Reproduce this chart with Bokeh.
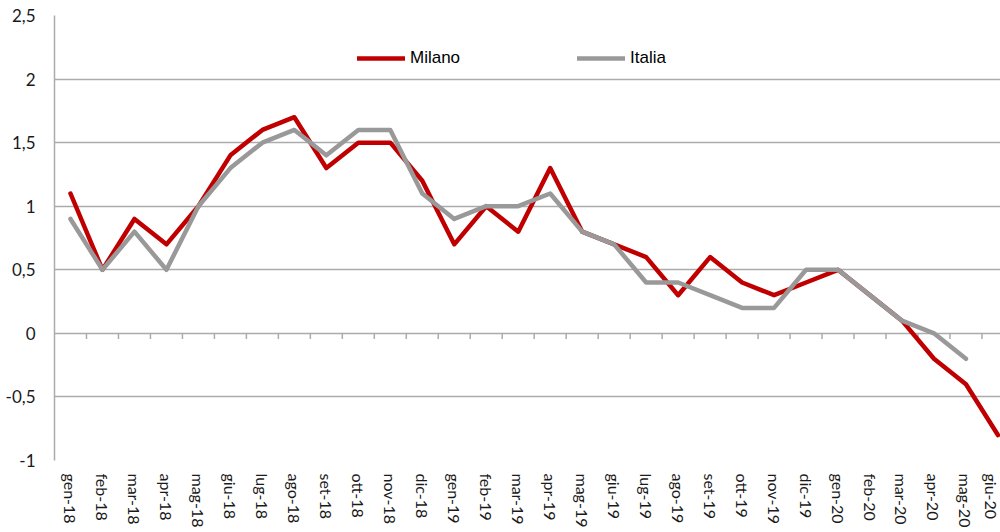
from bokeh.plotting import figure
from bokeh.models import (Range1d, FixedTicker, Legend, LegendItem)
from bokeh.embed import file_html
from bokeh.resources import INLINE

months = ["gen-18", "feb-18", "mar-18", "apr-18", "mag-18", "giu-18", "lug-18", "ago-18",
          "set-18", "ott-18", "nov-18", "dic-18", "gen-19", "feb-19", "mar-19", "apr-19",
          "mag-19", "giu-19", "lug-19", "ago-19", "set-19", "ott-19", "nov-19", "dic-19",
          "gen-20", "feb-20", "mar-20", "apr-20", "mag-20", "giu-20"]

milano = [1.1, 0.5, 0.9, 0.7, 1.0, 1.4, 1.6, 1.7, 1.3, 1.5, 1.5, 1.2, 0.7, 1.0, 0.8, 1.3,
          0.8, 0.7, 0.6, 0.3, 0.6, 0.4, 0.3, 0.4, 0.5, 0.3, 0.1, -0.2, -0.4, -0.8]

italia = [0.9, 0.5, 0.8, 0.5, 1.0, 1.3, 1.5, 1.6, 1.4, 1.6, 1.6, 1.1, 0.9, 1.0, 1.0, 1.1,
          0.8, 0.7, 0.4, 0.4, 0.3, 0.2, 0.2, 0.5, 0.5, 0.3, 0.1, 0.0, -0.2, float("nan")]

y_ticks = [-1, -0.5, 0, 0.5, 1, 1.5, 2, 2.5]
y_tick_labels = ["-1", "-0,5", "0", "0,5", "1", "1,5", "2", "2,5"]

RED = "#C00000"
GREY = "#999999"
GRID = "#ABABAB"

x = list(range(len(months)))

p = figure(width=1000, height=532, output_backend="svg", toolbar_location=None,
           x_range=Range1d(-0.5, 29.08), y_range=Range1d(-1, 2.5),
           min_border_left=54, min_border_right=0, min_border_top=15, min_border_bottom=72)
p.outline_line_color = None
p.background_fill_color = "white"

# grid
p.xgrid.visible = False
p.ygrid.ticker = FixedTicker(ticks=y_ticks)
p.ygrid.grid_line_color = GRID
p.ygrid.grid_line_width = 1.5

# y axis
p.yaxis.ticker = FixedTicker(ticks=y_ticks)
p.yaxis.major_label_overrides = {t: l for t, l in zip(y_ticks, y_tick_labels)}
p.yaxis.axis_line_color = GRID
p.yaxis.axis_line_width = 1.5
p.yaxis.major_tick_line_color = None
p.yaxis.minor_tick_line_color = None
p.yaxis.major_tick_out = 0
p.yaxis.major_tick_in = 0
p.yaxis.minor_tick_out = 0
p.yaxis.major_label_standoff = 19
p.yaxis.major_label_text_font = "Lato"
p.yaxis.major_label_text_font_size = "17px"
p.yaxis.major_label_text_color = "#1a1a1a"

# x axis (labels only)
p.xaxis.ticker = FixedTicker(ticks=x)
p.xaxis.major_label_overrides = {i: m for i, m in zip(x, months)}
p.xaxis.major_label_orientation = "vertical"
p.xaxis.axis_line_color = None
p.xaxis.major_tick_line_color = None
p.xaxis.minor_tick_line_color = None
p.xaxis.major_tick_out = 0
p.xaxis.major_tick_in = 0
p.xaxis.minor_tick_out = 0
p.xaxis.major_label_standoff = 13
p.xaxis.major_label_text_font = "Lato"
p.xaxis.major_label_text_font_size = "16px"
p.xaxis.major_label_text_color = "#1a1a1a"

# category tick marks on the zero line
bounds = [i + 0.5 for i in x]
tick_len = 0.045
p.segment(x0=bounds, y0=[0] * len(bounds), x1=bounds, y1=[-tick_len] * len(bounds),
          line_color=GRID, line_width=1.5)

r_mil = p.line(x, milano, line_color=RED, line_width=4.5, line_join="round", line_cap="round")
r_ita = p.line(x, italia, line_color=GREY, line_width=4.5, line_join="round", line_cap="round")

legend = Legend(items=[LegendItem(label="Milano", renderers=[r_mil]),
                       LegendItem(label="Italia", renderers=[r_ita])],
                orientation="horizontal", location=(303, 392),
                padding=0, margin=0, spacing=0, border_line_color=None,
                background_fill_alpha=0, glyph_width=48, glyph_height=20,
                label_height=20, label_width=167, label_standoff=5,
                label_text_font="Liberation Sans", label_text_font_size="17px",
                label_text_color="#000000")
p.add_layout(legend, "center")

open("out.html", "w").write(file_html(p, INLINE))
